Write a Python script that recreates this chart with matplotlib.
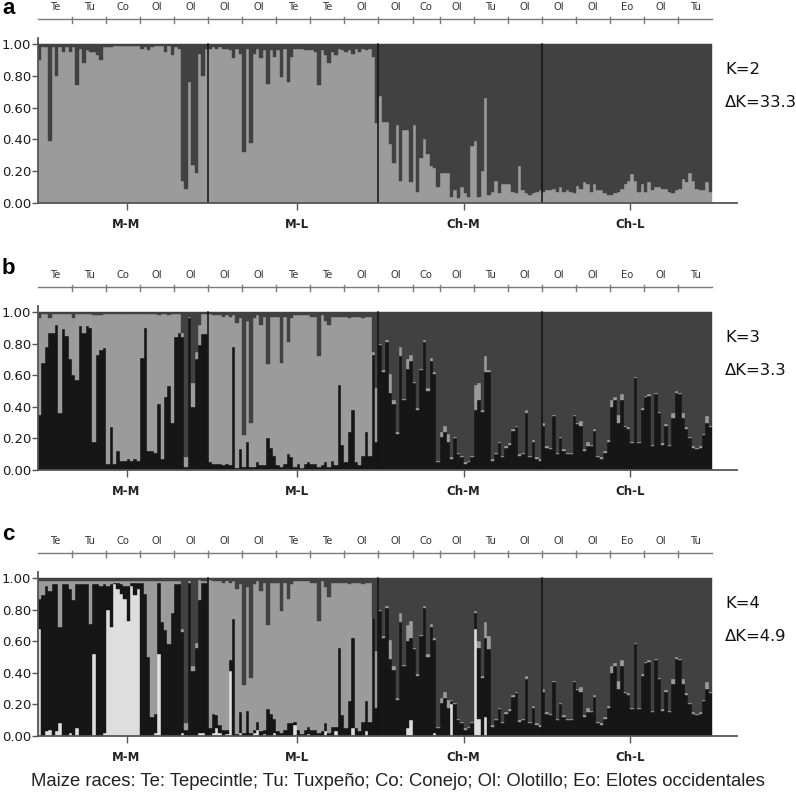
import numpy as np
import matplotlib.pyplot as plt

# ---- layout of samples -------------------------------------------------------
GROUPS = ["M-M", "M-L", "Ch-M", "Ch-L"]
GROUP_SIZES = [50, 50, 48, 50]
RACES = ["Te", "Tu", "Co", "Ol", "Ol", "Ol", "Ol", "Te", "Te", "Ol",
         "Ol", "Co", "Ol", "Tu", "Ol", "Ol", "Ol", "Eo", "Ol", "Tu"]
RACE_SIZES = [10] * 11 + [8] + [10] * 8

# ---- K=2 : light-grey membership (rest is dark grey) ---------------------------
A_LIGHT = (
    [0.90, 0.98, 0.98, 0.39, 0.98, 0.80, 0.98, 0.95, 0.98, 0.95,
     0.98, 0.74, 0.97, 0.88, 0.96, 0.95, 0.95, 0.93, 0.90, 0.98,
     0.98, 0.98, 0.99, 0.99, 0.99, 0.99, 0.99, 0.99, 0.99, 0.99,
     0.97, 0.98, 0.96, 0.98, 0.99, 0.99, 0.99, 0.95, 0.99, 0.93,
     0.98, 0.97, 0.14, 0.09, 0.76, 0.24, 0.19, 0.94, 0.80, 0.97]
    + [0.97, 0.98, 0.97, 0.98, 0.97, 0.97, 0.96, 0.91, 0.97, 0.94,
       0.32, 0.97, 0.38, 0.94, 0.97, 0.91, 0.96, 0.75, 0.96, 0.92,
       0.96, 0.79, 0.97, 0.76, 0.92, 0.97, 0.97, 0.97, 0.96, 0.96,
       0.96, 0.95, 0.74, 0.96, 0.93, 0.88, 0.95, 0.93, 0.97, 0.96,
       0.95, 0.96, 0.94, 0.97, 0.95, 0.97, 0.96, 0.97, 0.92, 0.50]
    + [0.67, 0.51, 0.51, 0.37, 0.25, 0.49, 0.14, 0.46, 0.46, 0.13,
       0.49, 0.07, 0.28, 0.40, 0.31, 0.23, 0.22, 0.10, 0.19, 0.19,
       0.19, 0.04, 0.08, 0.03, 0.10, 0.06, 0.04, 0.36, 0.39, 0.04,
       0.20, 0.66, 0.05, 0.07, 0.14, 0.06, 0.12, 0.12, 0.12, 0.07,
       0.06, 0.23, 0.08, 0.06, 0.05, 0.06, 0.07, 0.08]
    + [0.07, 0.08, 0.08, 0.09, 0.07, 0.10, 0.07, 0.08, 0.07, 0.06,
       0.11, 0.09, 0.13, 0.12, 0.07, 0.12, 0.08, 0.08, 0.06, 0.05,
       0.05, 0.06, 0.07, 0.09, 0.12, 0.14, 0.18, 0.14, 0.07, 0.12,
       0.07, 0.13, 0.08, 0.10, 0.10, 0.09, 0.09, 0.07, 0.06, 0.08,
       0.09, 0.15, 0.13, 0.19, 0.14, 0.09, 0.08, 0.08, 0.13, 0.07]
)

# ---- K=3 : black (bottom) and dark grey (top); light grey is the rest ---------
B_BLACK = (
    [0.35, 0.68, 0.78, 0.87, 0.87, 0.92, 0.36, 0.89, 0.85, 0.70,
     0.60, 0.57, 0.91, 0.87, 0.91, 0.90, 0.18, 0.73, 0.76, 0.77,
     0.04, 0.27, 0.04, 0.12, 0.06, 0.06, 0.07, 0.06, 0.07, 0.06,
     0.71, 0.90, 0.12, 0.12, 0.11, 0.42, 0.07, 0.46, 0.53, 0.30,
     0.84, 0.87, 0.84, 0.02, 0.96, 0.40, 0.70, 0.79, 0.86, 0.86]
    + [0.05, 0.04, 0.04, 0.04, 0.03, 0.04, 0.03, 0.78, 0.01, 0.13,
       0.02, 0.18, 0.02, 0.02, 0.05, 0.03, 0.03, 0.20, 0.14, 0.09,
       0.03, 0.02, 0.04, 0.10, 0.08, 0.02, 0.04, 0.01, 0.04, 0.05,
       0.04, 0.04, 0.02, 0.03, 0.05, 0.02, 0.06, 0.03, 0.54, 0.16,
       0.05, 0.24, 0.38, 0.05, 0.03, 0.09, 0.24, 0.09, 0.73, 0.18]
    + [0.79, 0.62, 0.81, 0.49, 0.42, 0.23, 0.72, 0.44, 0.64, 0.69,
       0.55, 0.38, 0.63, 0.81, 0.50, 0.69, 0.61, 0.05, 0.21, 0.24,
       0.18, 0.07, 0.20, 0.10, 0.08, 0.04, 0.05, 0.08, 0.38, 0.44,
       0.37, 0.62, 0.62, 0.06, 0.10, 0.17, 0.08, 0.14, 0.16, 0.25,
       0.27, 0.09, 0.10, 0.36, 0.08, 0.18, 0.07, 0.06]
    + [0.28, 0.14, 0.13, 0.34, 0.10, 0.20, 0.12, 0.10, 0.10, 0.34,
       0.29, 0.28, 0.12, 0.15, 0.15, 0.25, 0.08, 0.07, 0.11, 0.18,
       0.40, 0.44, 0.30, 0.44, 0.27, 0.26, 0.17, 0.58, 0.17, 0.38,
       0.46, 0.47, 0.15, 0.48, 0.36, 0.16, 0.28, 0.15, 0.33, 0.49,
       0.48, 0.33, 0.26, 0.20, 0.14, 0.13, 0.14, 0.22, 0.30, 0.27]
)
B_DARK = (
    [0.04, 0.01, 0.01, 0.04, 0.01, 0.01, 0.01, 0.01, 0.01, 0.01,
     0.04, 0.01, 0.01, 0.01, 0.01, 0.01, 0.02, 0.02, 0.02, 0.01,
     0.01, 0.01, 0.01, 0.01, 0.01, 0.01, 0.01, 0.01, 0.01, 0.01,
     0.01, 0.01, 0.01, 0.01, 0.01, 0.02, 0.01, 0.01, 0.02, 0.01,
     0.01, 0.01, 0.13, 0.92, 0.03, 0.45, 0.25, 0.08, 0.01, 0.01]
    + [0.01, 0.02, 0.02, 0.02, 0.03, 0.02, 0.03, 0.02, 0.07, 0.04,
       0.78, 0.06, 0.70, 0.04, 0.02, 0.08, 0.03, 0.33, 0.03, 0.03,
       0.03, 0.32, 0.03, 0.19, 0.04, 0.02, 0.02, 0.02, 0.02, 0.02,
       0.03, 0.03, 0.28, 0.02, 0.06, 0.08, 0.03, 0.03, 0.03, 0.03,
       0.03, 0.04, 0.03, 0.03, 0.03, 0.04, 0.03, 0.03, 0.25, 0.48]
    + [0.20, 0.37, 0.18, 0.39, 0.56, 0.76, 0.22, 0.55, 0.30, 0.27,
       0.44, 0.61, 0.36, 0.18, 0.48, 0.29, 0.38, 0.94, 0.76, 0.72,
       0.77, 0.92, 0.79, 0.89, 0.91, 0.95, 0.94, 0.91, 0.46, 0.45,
       0.62, 0.28, 0.37, 0.93, 0.89, 0.82, 0.91, 0.85, 0.83, 0.74,
       0.72, 0.90, 0.89, 0.62, 0.91, 0.81, 0.92, 0.93]
    + [0.70, 0.85, 0.86, 0.65, 0.89, 0.79, 0.87, 0.89, 0.89, 0.65,
       0.70, 0.69, 0.87, 0.82, 0.84, 0.74, 0.91, 0.92, 0.88, 0.81,
       0.56, 0.54, 0.65, 0.52, 0.72, 0.73, 0.82, 0.41, 0.82, 0.61,
       0.53, 0.52, 0.84, 0.51, 0.63, 0.83, 0.71, 0.84, 0.64, 0.50,
       0.51, 0.64, 0.73, 0.79, 0.85, 0.86, 0.85, 0.77, 0.66, 0.72]
)

# ---- K=4 : white, black, dark grey; light grey is the rest ---------------------
C_WHITE = (
    [0.68, 0.00, 0.03, 0.04, 0.00, 0.03, 0.08, 0.00, 0.00, 0.02,
     0.00, 0.05, 0.00, 0.00, 0.00, 0.00, 0.52, 0.00, 0.00, 0.02,
     0.80, 0.69, 0.96, 0.93, 0.90, 0.87, 0.73, 0.95, 0.89, 0.93,
     0.00, 0.00, 0.00, 0.00, 0.02, 0.52, 0.00, 0.00, 0.00, 0.00,
     0.00, 0.00, 0.02, 0.00, 0.00, 0.00, 0.00, 0.02, 0.02, 0.00]
    + [0.00, 0.02, 0.05, 0.02, 0.00, 0.01, 0.41, 0.00, 0.00, 0.02,
       0.00, 0.00, 0.00, 0.02, 0.04, 0.00, 0.01, 0.00, 0.00, 0.02,
       0.00, 0.00, 0.00, 0.00, 0.00, 0.07, 0.00, 0.00, 0.00, 0.01,
       0.00, 0.00, 0.00, 0.00, 0.03, 0.00, 0.00, 0.03, 0.00, 0.00,
       0.00, 0.00, 0.05, 0.00, 0.00, 0.00, 0.03, 0.00, 0.00, 0.00]
    + [0.00, 0.00, 0.00, 0.00, 0.00, 0.00, 0.00, 0.00, 0.05, 0.10,
       0.00, 0.00, 0.00, 0.00, 0.00, 0.00, 0.02, 0.00, 0.00, 0.00,
       0.00, 0.20, 0.00, 0.00, 0.00, 0.00, 0.00, 0.00, 0.68, 0.11,
       0.00, 0.12, 0.00, 0.00, 0.00, 0.00, 0.00, 0.00, 0.00, 0.00,
       0.00, 0.00, 0.00, 0.00, 0.00, 0.00, 0.00, 0.00]
    + [0.00] * 50
)
C_BLACK = (
    [0.19, 0.89, 0.92, 0.88, 0.96, 0.93, 0.61, 0.96, 0.96, 0.91,
     0.86, 0.91, 0.96, 0.96, 0.96, 0.71, 0.44, 0.96, 0.95, 0.94,
     0.15, 0.27, 0.01, 0.04, 0.06, 0.08, 0.22, 0.02, 0.08, 0.04,
     0.97, 0.90, 0.50, 0.12, 0.12, 0.45, 0.72, 0.67, 0.58, 0.78,
     0.96, 0.96, 0.64, 0.04, 0.97, 0.41, 0.56, 0.84, 0.95, 0.97]
    + [0.05, 0.12, 0.08, 0.05, 0.04, 0.03, 0.07, 0.74, 0.01, 0.13,
       0.02, 0.16, 0.02, 0.02, 0.05, 0.03, 0.03, 0.17, 0.14, 0.09,
       0.03, 0.02, 0.04, 0.08, 0.08, 0.02, 0.04, 0.01, 0.04, 0.05,
       0.04, 0.04, 0.02, 0.03, 0.05, 0.02, 0.06, 0.03, 0.56, 0.13,
       0.05, 0.22, 0.57, 0.05, 0.03, 0.09, 0.19, 0.09, 0.75, 0.18]
    + [0.79, 0.62, 0.81, 0.49, 0.42, 0.23, 0.72, 0.44, 0.55, 0.52,
       0.55, 0.38, 0.63, 0.81, 0.50, 0.69, 0.59, 0.05, 0.21, 0.24,
       0.18, 0.02, 0.20, 0.10, 0.08, 0.04, 0.05, 0.08, 0.10, 0.45,
       0.37, 0.50, 0.55, 0.06, 0.10, 0.17, 0.08, 0.14, 0.16, 0.25,
       0.27, 0.09, 0.10, 0.36, 0.08, 0.18, 0.07, 0.06]
    + B_BLACK[148:]
)
C_DARK = (
    [0.02] * 42 + [0.32, 0.92, 0.02, 0.56, 0.41, 0.01, 0.02, 0.02]
    + [0.01, 0.02, 0.02, 0.02, 0.03, 0.02, 0.03, 0.02, 0.07, 0.04,
       0.68, 0.06, 0.63, 0.04, 0.02, 0.08, 0.03, 0.30, 0.03, 0.03,
       0.03, 0.21, 0.03, 0.13, 0.04, 0.02, 0.02, 0.02, 0.02, 0.02,
       0.03, 0.03, 0.27, 0.02, 0.06, 0.12, 0.03, 0.03, 0.03, 0.03,
       0.03, 0.04, 0.03, 0.03, 0.03, 0.04, 0.03, 0.03, 0.25, 0.46]
    + [0.20, 0.37, 0.18, 0.39, 0.56, 0.76, 0.22, 0.55, 0.30, 0.27,
       0.44, 0.61, 0.36, 0.18, 0.48, 0.29, 0.38, 0.94, 0.76, 0.72,
       0.77, 0.77, 0.79, 0.89, 0.91, 0.95, 0.94, 0.91, 0.21, 0.40,
       0.62, 0.28, 0.37, 0.93, 0.89, 0.82, 0.91, 0.85, 0.83, 0.74,
       0.72, 0.90, 0.89, 0.62, 0.91, 0.81, 0.92, 0.93]
    + B_DARK[148:]
)

C_LIGHT = "#9b9b9b"
C_DARKG = "#414141"
C_BLK = "#161616"
C_WHT = "#dedede"


def panel(ax, layers, colors, K, dK):
    n = len(layers[0])
    x = np.arange(n)
    bottom = np.zeros(n)
    for vals, col in zip(layers, colors):
        vals = np.asarray(vals, float)
        ax.bar(x, vals, width=1.0, bottom=bottom, align="edge", color=col,
               edgecolor=col, linewidth=0.3)
        bottom = bottom + vals
    # group separators
    edges = np.cumsum(GROUP_SIZES)
    for e in edges[:-1]:
        ax.plot([e, e], [0, 1], color="#111111", lw=1.1)
    ax.set_xlim(0, 205.3)
    ax.set_ylim(0, 1.038)
    for s in ("top", "right"):
        ax.spines[s].set_visible(False)
    for s in ("left", "bottom"):
        ax.spines[s].set_color("#555555")
        ax.spines[s].set_linewidth(1.3)
    yt = np.arange(0, 1.01, 0.2)
    ax.set_yticks(yt)
    ax.set_yticklabels([f"{v:.2f}" for v in yt], fontsize=9.5, color="#1a1a1a")
    ax.tick_params(axis="y", length=4, width=1, color="#555555", pad=1)
    centers = np.cumsum(GROUP_SIZES) - np.array(GROUP_SIZES) / 2 + 1
    ax.set_xticks(centers)
    ax.set_xticklabels(GROUPS, fontsize=8.5, fontweight="bold", color="#222222")
    ax.tick_params(axis="x", length=5, width=1, color="#555555", pad=6)

    # race bar above the plot
    yl = 1.16
    kw = dict(color="#7a7a7a", lw=1.0, clip_on=False)
    ax.plot([0, n], [yl, yl], **kw)
    rb = np.concatenate([[0], np.cumsum(RACE_SIZES)])
    for b in rb[1:-1]:
        ax.plot([b, b], [yl - 0.025, yl + 0.012], **kw)
    for lab, a0, a1 in zip(RACES, rb[:-1], rb[1:]):
        ax.text((a0 + a1) / 2, yl + 0.075, lab, ha="center", va="center",
                fontsize=7.2, color="#333333", clip_on=False)

    ax.text(201.8, 0.84, f"K={K}", fontsize=11.8, va="center", color="#111111",
            clip_on=False)
    ax.text(201.8, 0.63, f"\u0394K={dK}", fontsize=11.8, va="center",
            color="#111111", clip_on=False)


W, H = 796, 800
fig = plt.figure(figsize=(W / 100, H / 100), dpi=100)


def add_axes(y0_px, unit_px):
    return fig.add_axes([38 / W, 1 - y0_px / H, 699 / W, unit_px * 1.038 / H])


a_light = np.asarray(A_LIGHT)
ax_a = add_axes(203, 159)
panel(ax_a, [a_light, 1 - a_light], [C_LIGHT, C_DARKG], 2, "33.3")

b_black, b_dark = np.asarray(B_BLACK), np.asarray(B_DARK)
ax_b = add_axes(470, 158)
panel(ax_b, [b_black, np.clip(1 - b_black - b_dark, 0, 1), b_dark],
      [C_BLK, C_LIGHT, C_DARKG], 3, "3.3")

c_white, c_black, c_dark = np.asarray(C_WHITE), np.asarray(C_BLACK), np.asarray(C_DARK)
c_light = np.clip(1 - c_white - c_black - c_dark, 0, 1)
c_top = np.clip(1 - c_white - c_black - c_light, 0, 1)
ax_c = add_axes(736, 158)
panel(ax_c, [c_white, c_black, c_light, c_top],
      [C_WHT, C_BLK, C_LIGHT, C_DARKG], 4, "4.9")

for lab, ypx in (("a", 9), ("b", 268), ("c", 535)):
    fig.text(2 / W, 1 - ypx / H, lab, fontsize=16, fontweight="bold",
             va="center", ha="left", family="Liberation Sans")

fig.text(0.5, 1 - 782 / H,
         "Maize races: Te: Tepecintle; Tu: Tuxpeño; Co: Conejo; Ol: Olotillo; "
         "Eo: Elotes occidentales",
         ha="center", va="center", fontsize=13.3, family="Liberation Sans",
         color="#222222")

fig.savefig("out.png", dpi=100)
